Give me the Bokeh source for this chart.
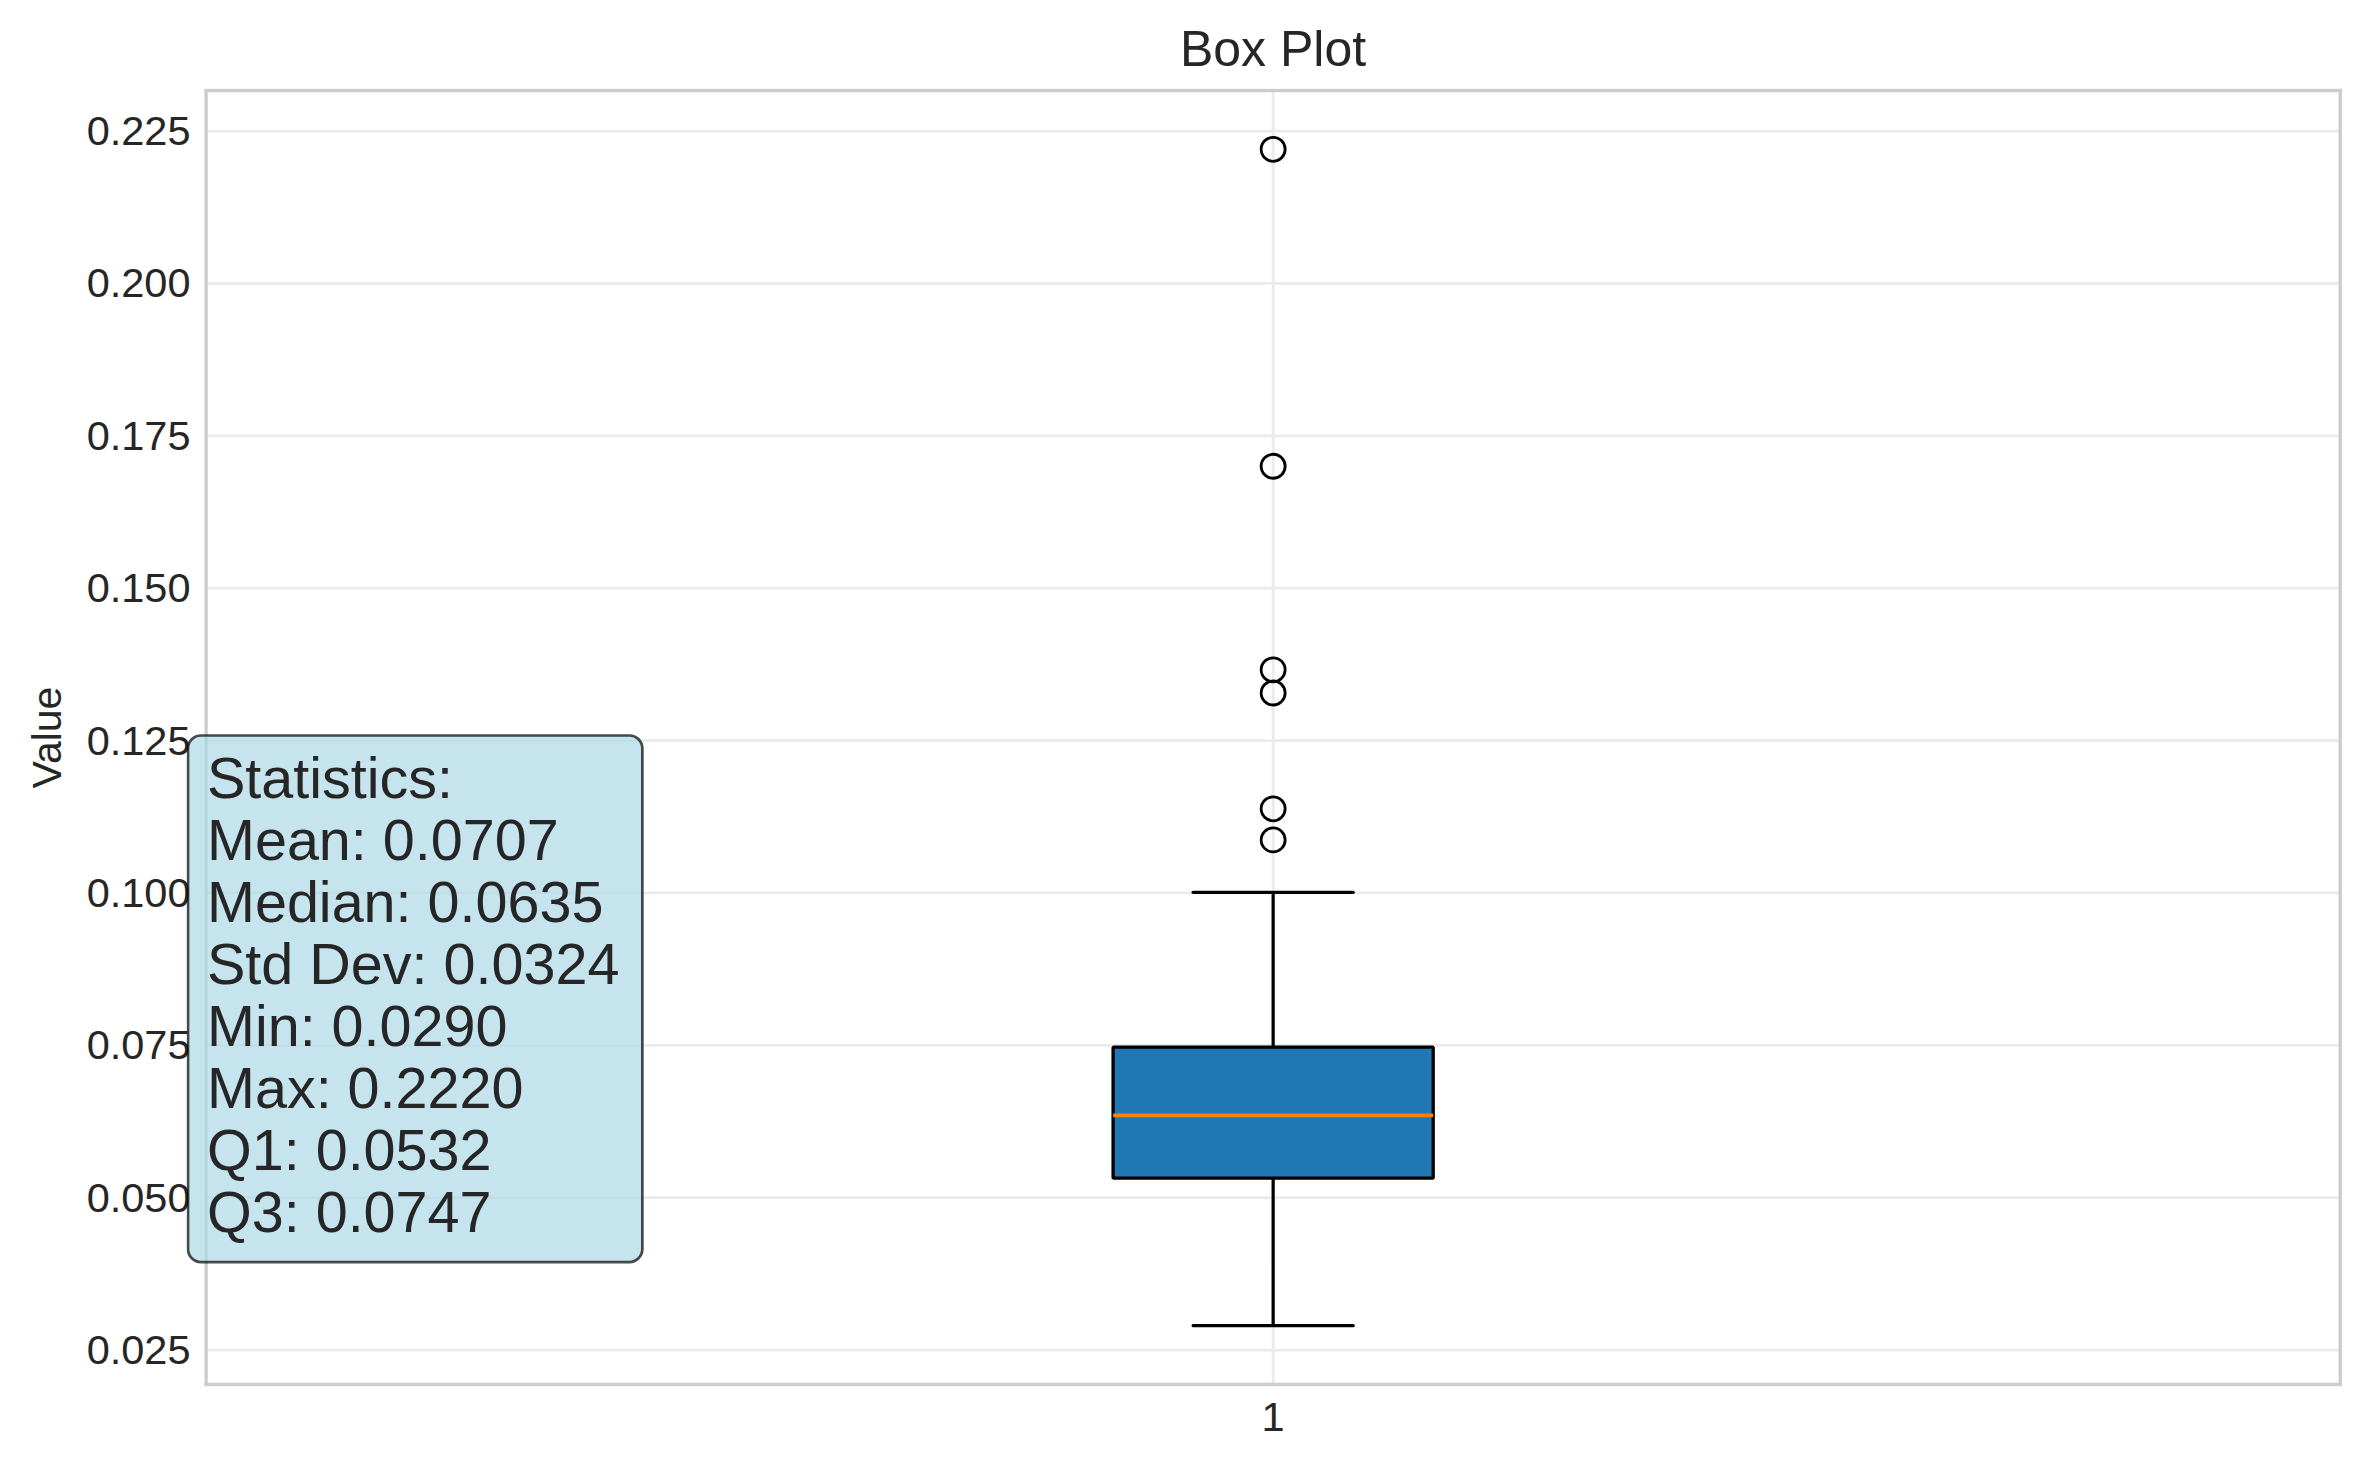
from bokeh.plotting import figure
from bokeh.models import Range1d, FixedTicker, Label, ColumnDataSource
from bokeh.embed import file_html
from bokeh.resources import INLINE

# ---- data ----
categories = [1]
q1 = [0.0532]
median = [0.0635]
q3 = [0.0747]
whisker_low = [0.0290]
whisker_high = [0.1001]
outlier_values = [0.2220, 0.1700, 0.1366, 0.1328, 0.1138, 0.1087]
outlier_category = [1, 1, 1, 1, 1, 1]
stat_names = ["Mean", "Median", "Std Dev", "Min", "Max", "Q1", "Q3"]
stat_values = [0.0707, 0.0635, 0.0324, 0.0290, 0.2220, 0.0532, 0.0747]
y_ticks = [0.025, 0.050, 0.075, 0.100, 0.125, 0.150, 0.175, 0.200, 0.225]
x_ticks = [1]

FONT = "Liberation Sans"
TXT = "#262626"
SPINE = "#cccccc"
GRID = "#ebebeb"
box_width = 0.15
cap_width = box_width / 2

# axes limits (matplotlib style: 0.5 around the box positions, 5% margin on values)
x_lo, x_hi = min(categories) - 0.5, max(categories) + 0.5
data_min = min(whisker_low + outlier_values)
data_max = max(whisker_high + outlier_values)
pad = 0.05 * (data_max - data_min)
y_lo, y_hi = data_min - pad, data_max + pad

# the frame is a little larger than the axes box so that the statistics box
# (which pokes out to the left of the axes) is not clipped; it is widened
# symmetrically so that the title stays centred over the axes box
W, H = 2370, 1469
ax_left, ax_right, ax_top, ax_bottom = 205.6, 2339.7, 90.0, 1384.0
fr_left, fr_right, fr_top, fr_bottom = 186, 2359, 88, 1386
xs = (x_hi - x_lo) / (ax_right - ax_left)
ys = (y_hi - y_lo) / (ax_bottom - ax_top)
x_range = Range1d(x_lo - (ax_left - fr_left) * xs, x_hi + (fr_right - ax_right) * xs)
y_range = Range1d(y_lo - (fr_bottom - ax_bottom) * ys, y_hi + (ax_top - fr_top) * ys)

p = figure(width=W, height=H, output_backend="svg", toolbar_location=None,
           x_range=x_range, y_range=y_range,
           min_border_left=fr_left, min_border_right=W - fr_right,
           min_border_top=fr_top, min_border_bottom=H - fr_bottom,
           title="Box Plot")
p.background_fill_color = "white"
p.border_fill_color = "white"
p.outline_line_color = None
p.xgrid.visible = False
p.ygrid.visible = False

p.title.align = "center"
p.title.text_font = FONT
p.title.text_font_size = "50px"
p.title.text_font_style = "normal"
p.title.text_color = TXT
p.title.standoff = 23

for ax in (p.xaxis[0], p.yaxis[0]):
    ax.axis_line_color = None
    ax.major_tick_line_color = None
    ax.minor_tick_line_color = None
    ax.major_tick_out = 0
    ax.major_tick_in = 0
    ax.minor_tick_out = 0
    ax.major_label_text_font = FONT
    ax.major_label_text_font_size = "41.5px"
    ax.major_label_text_color = TXT
    ax.axis_label_text_font = FONT
    ax.axis_label_text_font_size = "41px"
    ax.axis_label_text_font_style = "normal"
    ax.axis_label_text_color = TXT

p.xaxis.ticker = FixedTicker(ticks=x_ticks)
p.yaxis.ticker = FixedTicker(ticks=y_ticks)
p.xaxis.major_label_overrides = {t: str(t) for t in x_ticks}
p.yaxis.major_label_overrides = {t: f"{t:.3f}" for t in y_ticks}
p.xaxis.major_label_standoff = 16
p.yaxis.major_label_standoff = -4
p.yaxis.axis_label = "Value"
p.yaxis.axis_label_standoff = 14

# grid lines (drawn inside the axes box only)
p.segment(x0=[x_lo] * len(y_ticks), y0=y_ticks, x1=[x_hi] * len(y_ticks), y1=y_ticks,
          line_color=GRID, line_width=2.8)
p.segment(x0=x_ticks, y0=[y_lo] * len(x_ticks), x1=x_ticks, y1=[y_hi] * len(x_ticks),
          line_color=GRID, line_width=2.8)
# spines
p.segment(x0=[x_lo, x_hi, x_lo, x_lo], y0=[y_lo, y_lo, y_lo, y_hi],
          x1=[x_lo, x_hi, x_hi, x_hi], y1=[y_hi, y_hi, y_lo, y_hi],
          line_color=SPINE, line_width=3.3, line_cap="square")

src = ColumnDataSource(dict(
    x=categories, q1=q1, med=median, q3=q3, lo=whisker_low, hi=whisker_high,
    left=[c - box_width / 2 for c in categories], right=[c + box_width / 2 for c in categories],
    cl=[c - cap_width / 2 for c in categories], cr=[c + cap_width / 2 for c in categories],
))

# whiskers
p.segment(x0="x", y0="q3", x1="x", y1="hi", source=src, line_color="black", line_width=3.2)
p.segment(x0="x", y0="q1", x1="x", y1="lo", source=src, line_color="black", line_width=3.2)
# caps
p.segment(x0="cl", y0="hi", x1="cr", y1="hi", source=src, line_color="black", line_width=3.2, line_cap="round")
p.segment(x0="cl", y0="lo", x1="cr", y1="lo", source=src, line_color="black", line_width=3.2, line_cap="round")
# box
p.quad(left="left", right="right", bottom="q1", top="q3", source=src,
       fill_color="#1f77b4", line_color="black", line_width=3.3)
# median
p.segment(x0="left", y0="med", x1="right", y1="med", source=src, line_color="#ff7f0e", line_width=3.8)
# outliers
p.scatter(x=outlier_category, y=outlier_values, marker="circle", size=24,
          fill_color=None, line_color="black", line_width=2.8)

stats_text = "Statistics:\n" + "\n".join(f"{n}: {v:.4f}" for n, v in zip(stat_names, stat_values))
lab = Label(x=1.5, y=651, x_units="screen", y_units="screen", anchor="top_left",
            text=stats_text, text_font=FONT, text_font_size="57.5px", text_color=TXT,
            text_line_height=0.97,
            background_fill_color="#add8e6", background_fill_alpha=0.7,
            border_line_color="black", border_line_alpha=0.7, border_line_width=2.7,
            border_radius=13, padding=dict(left=19, right=23, top=10, bottom=18))
p.add_layout(lab)

open("out.html", "w").write(file_html(p, INLINE))
